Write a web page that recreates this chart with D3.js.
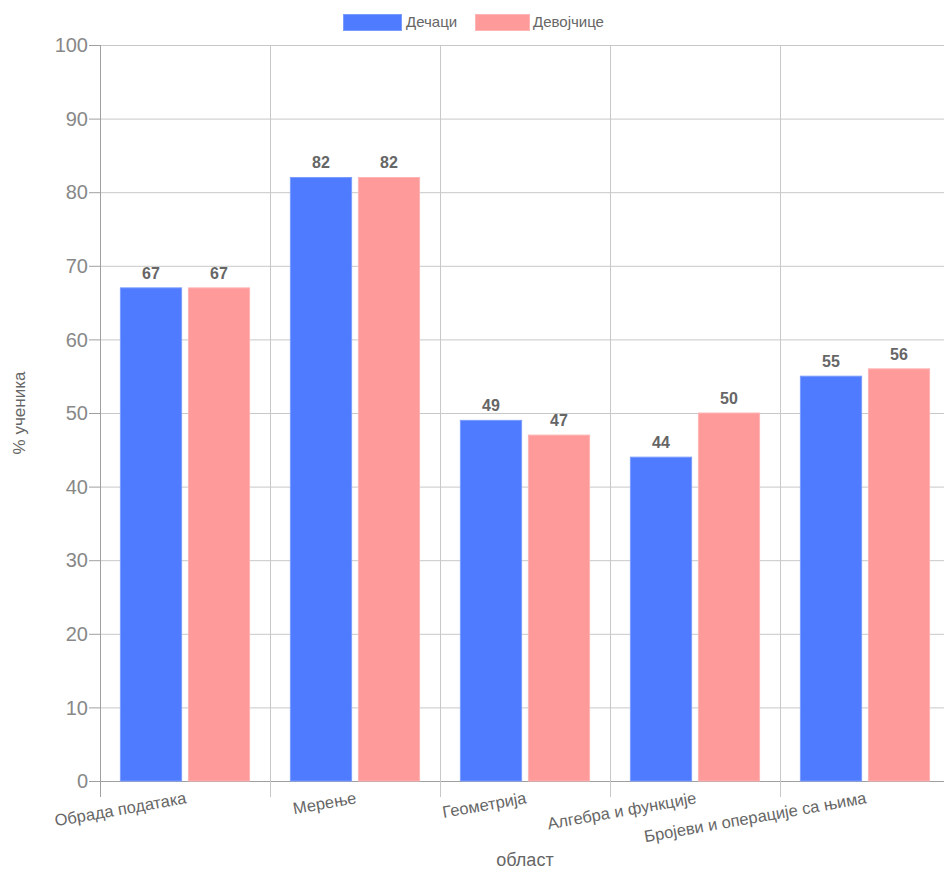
<!DOCTYPE html>
<html><head><meta charset="utf-8">
<script src="https://cdn.jsdelivr.net/npm/d3@7"></script>
<style>body{margin:0;background:#fff;}svg{display:block;font-family:"Liberation Sans", Arial, sans-serif;}</style>
</head><body><svg id="c" width="944" height="874"></svg>
<script>
const categories = ["Обрада података","Мерење","Геометрија","Алгебра и функције","Бројеви и операције са њима"];
const seriesNames = ["Дечаци","Девојчице"];
const boys = [67,82,49,44,55];
const girls = [67,82,47,50,56];
const yTicks = [0,10,20,30,40,50,60,70,80,90,100];
const colors = ["#4e7bff","#ff9a9a"];
const borders = ["#7a9cff","#ffb5b5"];

const svg = d3.select("#c");
const x = d3.scaleBand().domain(categories).range([100,950]).paddingInner(0).paddingOuter(0);
const y = d3.scaleLinear().domain([0,100]).range([781,45]);

// grid
const g = svg.append("g");
g.selectAll(".hg").data(yTicks).join("line")
 .attr("x1",100).attr("x2",950).attr("y1",d=>y(d)+0.5).attr("y2",d=>y(d)+0.5)
 .attr("stroke",d=>d===0?"#a0a0a0":"#c8c8c8").attr("stroke-width",1);
const bounds = categories.map(c=>x(c));
g.selectAll(".vg").data(bounds).join("line")
 .attr("x1",d=>d+0.5).attr("x2",d=>d+0.5).attr("y1",45).attr("y2",797)
 .attr("stroke","#c8c8c8");
g.append("line").attr("x1",100.5).attr("x2",100.5).attr("y1",45).attr("y2",797).attr("stroke","#a0a0a0");
g.selectAll(".yt").data(yTicks).join("line")
 .attr("x1",89).attr("x2",100).attr("y1",d=>y(d)+0.5).attr("y2",d=>y(d)+0.5).attr("stroke","#a0a0a0");
g.selectAll(".yl").data(yTicks).join("text")
 .attr("x",88).attr("y",d=>y(d)).attr("dy","0.36em").attr("text-anchor","end")
 .attr("font-size",20).attr("fill","#888").text(d=>d);

// bars
const catW = x.bandwidth()*0.8;
const barW = catW/2*0.9;
const series = [boys, girls];
series.forEach((vals,si)=>{
  const bg = svg.append("g");
  bg.selectAll("rect").data(vals).join("rect")
   .attr("x",(d,i)=>x(categories[i]) + x.bandwidth()*0.1 + si*catW/2 + (catW/2-barW)/2)
   .attr("y",d=>y(d)).attr("width",barW).attr("height",d=>y(0)-y(d))
   .attr("fill",colors[si]).attr("stroke",borders[si]).attr("stroke-width",1);
  bg.selectAll("text").data(vals).join("text")
   .attr("x",(d,i)=>x(categories[i]) + x.bandwidth()*0.1 + si*catW/2 + catW/4)
   .attr("y",d=>y(d)-9).attr("text-anchor","middle")
   .attr("font-size",16).attr("font-weight","bold").attr("fill","#666").text(d=>d);
});

// x labels
svg.selectAll(".xl").data(categories).join("text")
 .attr("transform",d=>`translate(${x(d)+x.bandwidth()/2},${791}) rotate(-10)`)
 .attr("text-anchor","end").attr("dy","0.75em")
 .attr("font-size",16.5).attr("fill","#666").text(d=>d);

// axis titles
svg.append("text").attr("x",525).attr("y",866).attr("text-anchor","middle")
 .attr("font-size",18).attr("fill","#666").text("област");
svg.append("text").attr("transform","translate(25,413) rotate(-90)").attr("text-anchor","middle")
 .attr("font-size",17).attr("fill","#666").text("% ученика");

// legend
const leg = [{n:seriesNames[0],x:343,tx:406},{n:seriesNames[1],x:475,tx:533}];
leg.forEach((l,i)=>{
  svg.append("rect").attr("x",l.x+0.5).attr("y",14.5).attr("width",i===0?58:54).attr("height",16)
   .attr("fill",colors[i]).attr("stroke",borders[i]);
  svg.append("text").attr("x",l.tx).attr("y",22).attr("dy","0.35em")
   .attr("font-size",15).attr("fill","#666").text(l.n);
});
</script></body></html>
